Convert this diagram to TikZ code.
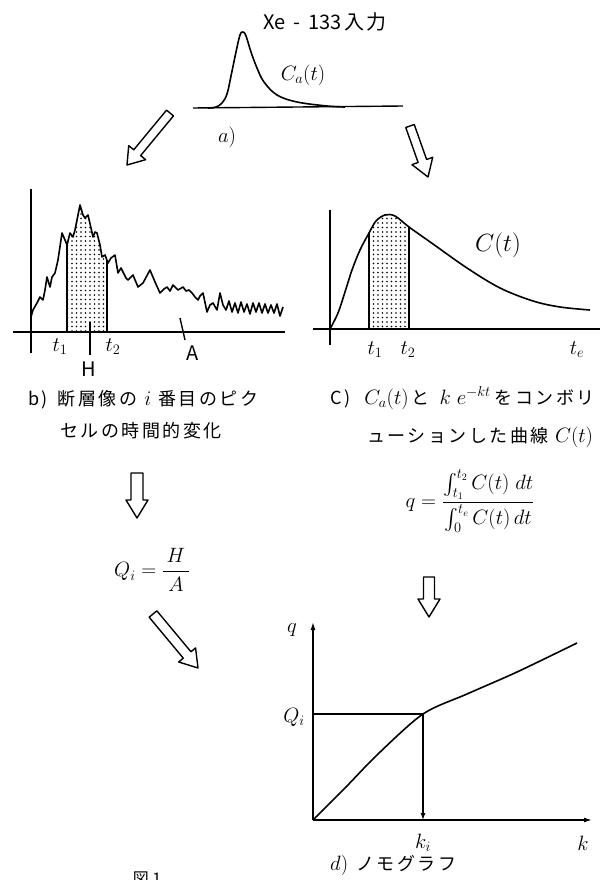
\documentclass[tikz,border=0pt]{standalone}
\usepackage{amsmath}
\usepackage{fontspec}
\newfontfamily\jp[LetterSpace=14]{Noto Sans CJK JP}
\newfontfamily\jpn{Noto Sans CJK JP}
\usetikzlibrary{calc,patterns.meta,arrows.meta}
\newcommand{\hollowarr}[5]{%
  \coordinate (hb) at ($(#2)!#5!(#1)$);
  \draw[harrowstyle] ($(#1)!#3!90:(#2)$) -- ($(hb)!#3!90:(#2)$) -- ($(hb)!#4!90:(#2)$) -- (#2)
    -- ($(hb)!#4!-90:(#2)$) -- ($(hb)!#3!-90:(#2)$) -- ($(#1)!#3!-90:(#2)$) -- cycle;}
\newcommand{\capmath}[1]{{\fontsize{22}{24}\selectfont$#1$}}
\begin{document}
\begin{tikzpicture}[x=1pt,y=-1pt,
  axisline/.style={line width=1.4pt},
  curveline/.style={line width=1.6pt, line join=round},
  harrowstyle/.style={line width=1.4pt, line join=round, fill=white},
  dotfill/.style={pattern={Dots[radius=0.8pt,distance=4.5pt]}},
  mlbl/.style={inner sep=0pt, font=\fontsize{21}{24}\selectfont},
  jtxt/.style={inner sep=0pt, anchor=west, font=\jp\fontsize{18}{21}\selectfont},
  slbl/.style={inner sep=0pt, font=\jpn\fontsize{20}{22}\selectfont}]
\fill[white] (0,0) rectangle (608,880);
\useasboundingbox (0,0) rectangle (608,880);

% ---------- panel a ----------
\node[inner sep=0pt, font=\jpn\fontsize{20}{23}\selectfont] (title) at (325,22) {Xe\hspace{8pt}-\hspace{8pt}133\hspace{3pt}入\hspace{2pt}力};
\draw[axisline] (193,108) -- (403,106);
\draw[curveline] plot[smooth, tension=0.6] coordinates {(208,108)(216,107)(222,103)(227,94)(231,76)(236,52)(240,35)(243,32)(246,36)(251,52)(257,68)(264,82)(277,95)(297,102)(327,106)(345,107)};
\node[mlbl] (cat) at (303,75) {$C_a(t)$};
\node[mlbl] (alab) at (227,137) {$a)$};

% ---------- hollow arrows ----------
\coordinate (a1t) at (170,113); \coordinate (a1h) at (127,165);
\hollowarr{a1t}{a1h}{4.5pt}{11pt}{16pt}
\coordinate (a2t) at (410,126); \coordinate (a2h) at (428,177);
\hollowarr{a2t}{a2h}{4.5pt}{11pt}{17pt}

% ---------- panel b ----------
\def\bcurve{plot coordinates {(31,317)(33,310)(37,303)(40,297)(43,300)(45,290)(47,277)(50,287)(52,277)(55,273)(58,260)(62,233)(65,240)(67,245)(70,233)(73,237)(75,230)(78,215)(80,205)(83,215)(85,218)(88,215)(91,228)(93,237)(95,232)(97,233)(100,245)(102,257)(105,255)(108,263)(111,258)(115,255)(118,273)(121,268)(123,272)(126,278)(128,280)(133,275)(138,287)(143,283)(150,270)(155,282)(160,293)(164,289)(167,287)(170,291)(173,285)(178,290)(183,287)(186,291)(189,290)(192,293)(195,297)(198,300)(200,296)(203,293)(207,312)(210,305)(213,303)(217,310)(220,293)(223,305)(226,310)(229,301)(232,312)(235,303)(238,313)(241,302)(244,312)(247,304)(250,314)(253,303)(256,312)(259,303)(262,313)(265,304)(268,313)(271,305)(274,313)(277,304)(280,316)(283,307)}}
\begin{scope}
  \clip (67,150) rectangle (107,332);
  \fill[dotfill] \bcurve -- (283,332) -- (31,332) -- cycle;
\end{scope}
\draw[axisline] (31,189) -- (31,353);
\draw[axisline] (13,332) -- (285,332);
\draw[curveline] \bcurve;
\draw[axisline] (67,332) -- (67,245);
\draw[axisline] (107,332) -- (107,260);
\draw[axisline] (90,322) -- (90,355);
\draw[axisline] (180,318) -- (185,340);
\node[mlbl] (bt1) at (60,347) {$t_1$};
\node[mlbl] (bt2) at (113,347) {$t_2$};
\node[slbl] (bH) at (89,369) {H};
\node[slbl] (bA) at (193,353) {A};
\node[jtxt] (bcap1) at (28,400) {b)\hspace{10pt}断層像の\hspace{7pt}\capmath{i}\hspace{7pt}番目のピク};
\node[jtxt] (bcap2) at (60,431) {セルの時間的変化};

% ---------- panel c ----------
\def\ccurve{plot[smooth, tension=0.55] coordinates {(330,329)(338,313)(345,292)(352,270)(360,250)(369,233)(376,221)(385,215)(395,216)(409,227)(433,244)(467,268)(500,288)(533,301)(560,307)(590,310)}}
\begin{scope}
  \clip (369,150) rectangle (409,329);
  \fill[dotfill] \ccurve -- (590,329) -- (330,329) -- cycle;
\end{scope}
\draw[axisline] (330,210) -- (330,345);
\draw[axisline] (313,329) -- (600,329);
\draw[curveline] \ccurve;
\draw[axisline] (369,329) -- (369,233);
\draw[axisline] (409,329) -- (409,227);
\node[inner sep=0pt, font=\fontsize{24}{26}\selectfont] (ct) at (498,245) {$C(t)$};
\node[mlbl] (ct1) at (375,350) {$t_1$};
\node[mlbl] (ct2) at (408,350) {$t_2$};
\node[mlbl] (cte) at (577,350) {$t_e$};
\node[jtxt] (ccap1) at (330,398) {C)\hspace{14pt}\capmath{C_a(t)}\hspace{3pt}と\hspace{10pt}\capmath{k\;e^{-kt}}\hspace{4pt}をコンボリ};
\node[jtxt] (ccap2) at (367,437) {ューションした曲線\hspace{6pt}\capmath{C(t)}};
\node[inner sep=0pt, font=\fontsize{20}{22}\selectfont] (qf) at (470,501)
  {$q=\dfrac{\int_{t_1}^{t_2} C(t)\;dt}{\int_0^{t_e} C(t)\,dt}$};

% ---------- left middle ----------
\coordinate (a3t) at (137,473); \coordinate (a3h) at (137,518);
\hollowarr{a3t}{a3h}{6pt}{11pt}{18pt}
\node[inner sep=0pt, font=\fontsize{22}{24}\selectfont] (qi) at (152,570) {$Q_i=\dfrac{\,H\,}{\,A\,}$};
\coordinate (a4t) at (153,614); \coordinate (a4h) at (198,668);
\hollowarr{a4t}{a4h}{5pt}{11pt}{17pt}
\coordinate (a5t) at (429,577); \coordinate (a5h) at (429,617);
\hollowarr{a5t}{a5h}{5.5pt}{11pt}{18pt}

% ---------- panel d ----------
\coordinate (O) at (313,820);
\coordinate (P) at (423,714);
\draw[axisline, -{Latex[length=8pt,width=5pt]}] (O) -- (313,622);
\draw[axisline, -{Latex[length=8pt,width=5pt]}] (O) -- (592,820);
\draw[curveline] plot[smooth, tension=0.5] coordinates {(313,820)(345,788)(378,754)(423,714)(467,694)(517,672)(577,643)};
\draw[line width=1.2pt] (313,714) -- (P);
\draw[line width=1.2pt, -{Latex[length=7pt,width=5pt]}] (P) -- (423,820);
\node[mlbl] (dq) at (292,630) {$q$};
\node[mlbl] (dQi) at (294,717) {$Q_i$};
\node[mlbl] (dki) at (423,843) {$k_i$};
\node[mlbl] (dk) at (583,843) {$k$};
\node[jtxt] (dcap) at (330,865) {\capmath{d)}\hspace{8pt}ノモグラフ};
\node[inner sep=0pt, anchor=north, font=\jpn\fontsize{16}{18}\selectfont] (fig) at (147,872) {図 1};
\end{tikzpicture}
\end{document}
